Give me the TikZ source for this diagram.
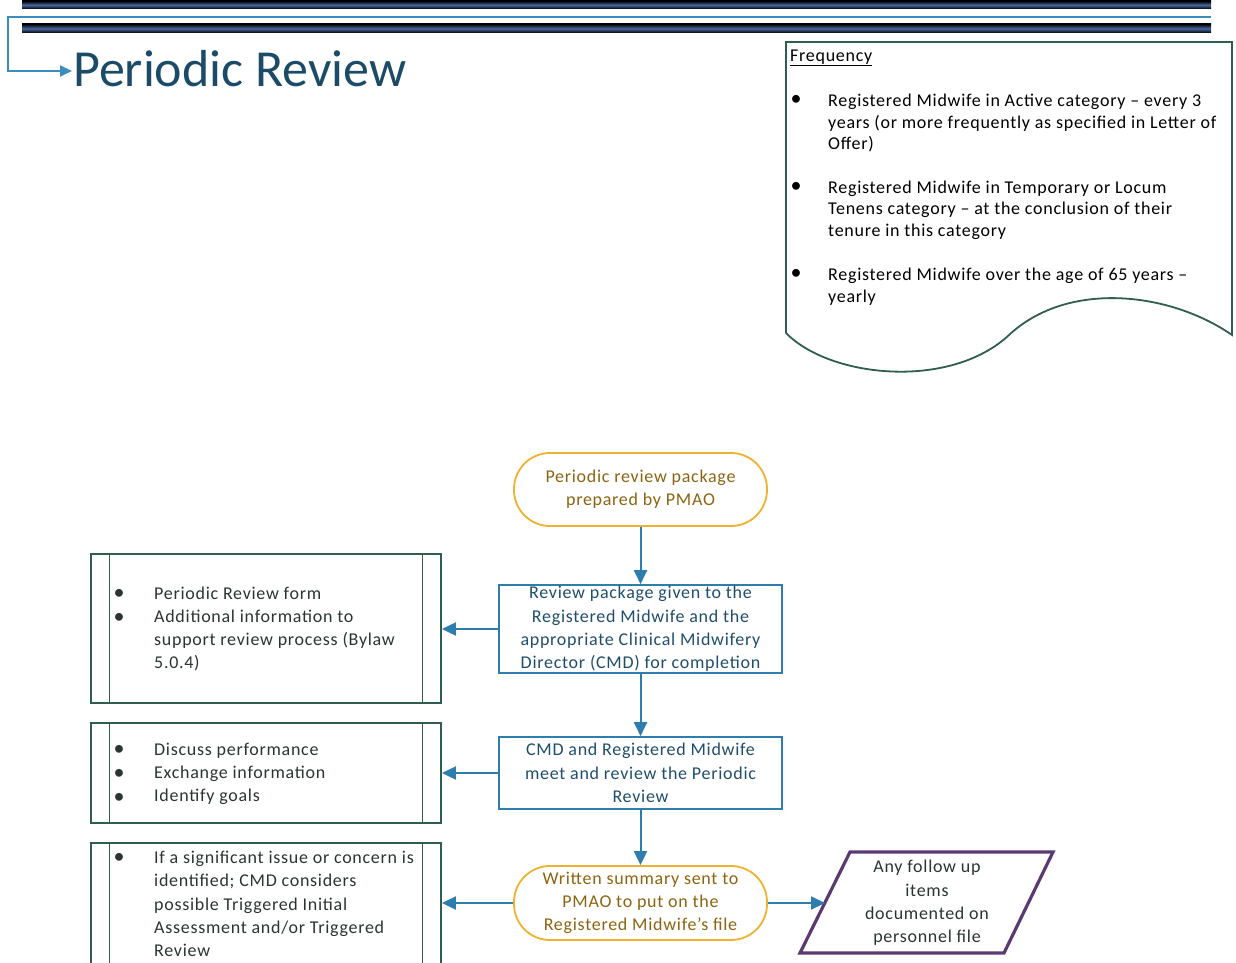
\documentclass[tikz,border=0pt]{standalone}
\usepackage{fontspec}
\setmainfont{Carlito}
\newfontfamily\bodyf[LetterSpace=4]{Carlito}
\usetikzlibrary{arrows.meta}
\definecolor{flowblue}{HTML}{2E7DAF}
\definecolor{titleblue}{HTML}{1B4B66}
\definecolor{termorange}{HTML}{F0B030}
\definecolor{termtext}{HTML}{8C6410}
\definecolor{boxtext}{HTML}{1F4E6B}
\definecolor{darkgreen}{HTML}{2F5E4E}
\definecolor{sidetext}{HTML}{2B3530}
\definecolor{purp}{HTML}{5A3A70}
\definecolor{navy}{HTML}{4668A0}
\definecolor{linkblue}{HTML}{3A8DBE}
\newcommand{\fsbox}{\bodyf\fontsize{18}{23.3}\selectfont}
\newcommand{\fsfreq}{\bodyf\fontsize{18}{21.7}\selectfont}
\begin{document}
\begin{tikzpicture}[x=1pt,y=-1pt,
  term/.style={draw=termorange, line width=1.8pt, rounded corners=36pt, minimum width=253pt, minimum height=73pt, text=termtext, align=center, font=\fsbox, inner sep=0pt},
  proc/.style={draw=flowblue, line width=1.6pt, minimum width=283pt, text=boxtext, align=center, font=\fsbox, inner sep=0pt},
  side/.style={draw=darkgreen, line width=1.8pt, minimum width=350pt, inner sep=0pt},
  sidetxt/.style={text=sidetext, align=left, font=\fsbox, inner sep=0pt, anchor=west},
  bul/.style={text=sidetext, font=\fontsize{22}{22}\selectfont, inner sep=0pt},
  arr/.style={flowblue, line width=2pt, -{Triangle[length=14pt,width=13pt]}},
  freqtxt/.style={text=black, align=left, font=\fsfreq, inner sep=0pt, anchor=west}]
\useasboundingbox (0,0) rectangle (1236,963);
% header bars
\shade[top color=black, bottom color=black, middle color=navy] (22,1) rectangle (1211,9);
\shade[top color=black, bottom color=black, middle color=navy] (22,24) rectangle (1211,33);
\node[anchor=base west, inner sep=0pt, text=titleblue, font=\fontsize{52}{60}\selectfont] (title) at (73,87) {Periodic Review};
\coordinate (tstart) at (1211,17);
\coordinate (tarr) at (72,71);
\draw[linkblue, line width=2pt, -{Triangle[length=12pt,width=11pt]}] (tstart) -- (8,17) -- (8,71) -- (tarr);
% frequency document
\draw[darkgreen, line width=1.8pt, line join=miter] (786,333) -- (786,42) -- (1232,42) -- (1232,335)
  .. controls (1170,292) and (1068,280) .. (1009,335)
  .. controls (950,390) and (830,378) .. (786,333);
\node[anchor=west, inner sep=0pt, font=\fsfreq] (freqh) at (790,58) {\underline{Frequency}};
\node[bul, text=black] (fb1) at (796,100) {\textbullet};
\node[bul, text=black] (fb2) at (796,187) {\textbullet};
\node[bul, text=black] (fb3) at (796,274) {\textbullet};
\node[freqtxt] (f1) at (828,123) {Registered Midwife in Active category – every 3\\years (or more frequently as specified in Letter of\\Offer)};
\node[freqtxt] (f2) at (828,210) {Registered Midwife in Temporary or Locum\\Tenens category – at the conclusion of their\\tenure in this category};
\node[freqtxt] (f3) at (828,287) {Registered Midwife over the age of 65 years –\\yearly};
% flow nodes
\node[term] (t1) at (640.5,489.5) {Periodic review package\\prepared by PMAO};
\node[proc, minimum height=88pt] (p2) at (640.5,629) {Review package given to the\\Registered Midwife and the\\appropriate Clinical Midwifery\\Director (CMD) for completion};
\node[proc, minimum height=72pt] (p3) at (640.5,773) {CMD and Registered Midwife\\meet and review the Periodic\\Review};
\node[term, minimum height=74pt] (t4) at (640.5,903) {Written summary sent to\\PMAO to put on the\\Registered Midwife’s file};
% parallelogram
\draw[purp, line width=3.2pt, line join=miter] (850,852) -- (1053,852) -- (1004,953) -- (800,953) -- cycle;
\node[align=center, inner sep=0pt, font=\fsbox, text=sidetext] (fu) at (927,903) {Any follow up\\items\\documented on\\personnel file};
\coordinate (fuin) at (825,903);
% side boxes
\node[side, minimum height=149pt] (a) at (266,628.5) {};
\node[side, minimum height=100pt] (b) at (266,773) {};
\node[side, minimum height=150pt] (c) at (266,918) {};
\foreach \n in {a,b,c}{
  \draw[darkgreen, line width=1.1pt] ([xshift=19pt]\n.north west) -- ([xshift=19pt]\n.south west);
  \draw[darkgreen, line width=1.1pt] ([xshift=-19pt]\n.north east) -- ([xshift=-19pt]\n.south east);
}
\node[bul] (ab1) at (119,594) {\textbullet};
\node[bul] (ab2) at (119,618) {\textbullet};
\node[sidetxt] (at) at (154,629) {Periodic Review form\\Additional information to\\support review process (Bylaw\\5.0.4)};
\node[bul] (bb1) at (119,750) {\textbullet};
\node[bul] (bb2) at (119,774) {\textbullet};
\node[bul] (bb3) at (119,798) {\textbullet};
\node[sidetxt] (bt) at (154,774) {Discuss performance\\Exchange information\\Identify goals};
\node[bul] (cb1) at (119,858) {\textbullet};
\node[sidetxt] (ct) at (154,904) {If a significant issue or concern is\\identified; CMD considers\\possible Triggered Initial\\Assessment and/or Triggered\\Review};
% connectors
\draw[arr] (t1) -- (p2);
\draw[arr] (p2) -- (p3);
\draw[arr] (p3) -- (t4);
\draw[arr] (p2.west) -- (a.east |- p2.west);
\draw[arr] (p3.west) -- (b.east |- p3.west);
\draw[arr] (t4.west) -- (c.east |- t4.west);
\draw[arr] (t4.east) -- (fuin);
\end{tikzpicture}
\end{document}
